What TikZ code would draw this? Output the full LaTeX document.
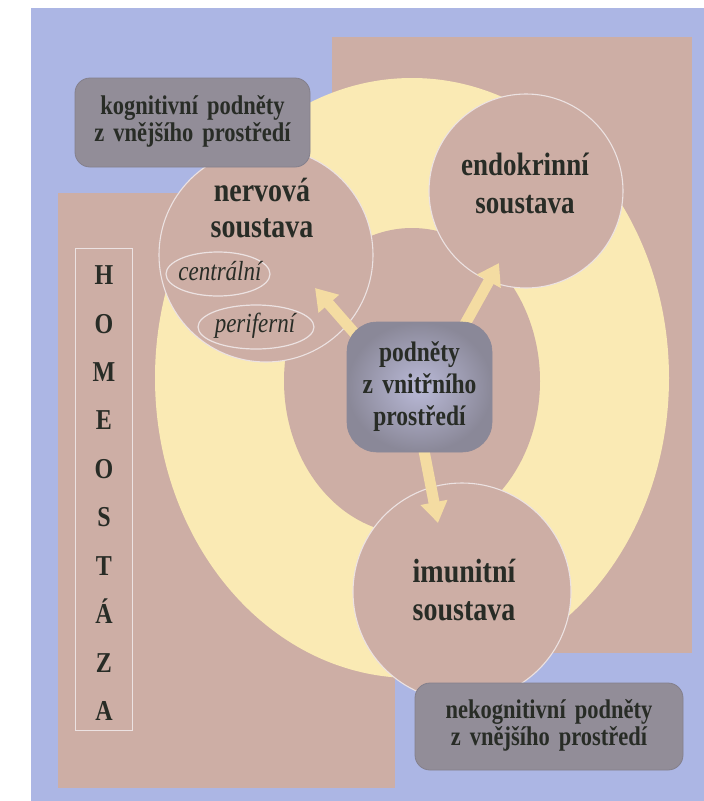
\documentclass[tikz,border=0pt]{standalone}
\usepackage{fontspec}
\setmainfont{Liberation Serif}[WordSpace=1.6]
\usepackage{graphicx}
\usetikzlibrary{arrows.meta,shapes.geometric}
\definecolor{bgblue}{RGB}{172,182,228}
\definecolor{tanc}{RGB}{205,174,165}
\definecolor{yel}{RGB}{250,234,180}
\definecolor{arrowyel}{RGB}{244,220,162}
\definecolor{boxgray}{RGB}{146,141,152}
\definecolor{boxedge}{RGB}{132,128,140}
\definecolor{cin}{RGB}{186,186,216}
\definecolor{cout}{RGB}{138,136,152}
\definecolor{txt}{RGB}{40,44,38}
\definecolor{lightline}{RGB}{236,226,226}
\newcommand{\vtext}[3]{\scalebox{1}[1.2]{\fontsize{#1}{#2}\selectfont\begin{tabular}{@{}c@{}}#3\end{tabular}}}
\begin{document}
\begin{tikzpicture}[x=1pt,y=-1pt,
  sat/.style={circle, fill=tanc, draw=lightline, line width=1.1pt, inner sep=0pt},
  ellbox/.style={ellipse, draw=lightline, line width=1.2pt, inner sep=0pt},
  lbl/.style={text=txt, font=\bfseries, inner sep=0pt},
  itlbl/.style={text=txt, font=\itshape, inner sep=0pt},
  graybox/.style={rectangle, rounded corners=15pt, fill=boxgray, draw=boxedge, line width=0.8pt, text=txt, font=\bfseries, inner sep=0pt},
  centerbox/.style={rectangle, rounded corners=30pt, inner color=cin, outer color=cout, draw=cout, line width=0.6pt, text=txt, font=\bfseries, inner sep=0pt},
  bigarrow/.style={draw=arrowyel, line width=11pt, -{Triangle[width=26pt,length=21pt]}},
  homebox/.style={rectangle, draw=lightline, line width=0.8pt, inner sep=0pt}
]
\fill[white] (0,0) rectangle (704,801);
\useasboundingbox (0,0) rectangle (704,801);
% backgrounds
\fill[bgblue] (31,8) rectangle (704,801);
\fill[tanc] (332,37) rectangle (692,653);
\fill[tanc] (58,193) rectangle (395,788);
\fill[yel] (412,378) ellipse [x radius=257pt, y radius=300pt];
\fill[tanc] (412,381) ellipse [x radius=128pt, y radius=153pt];
% satellite circles
\node[sat, minimum size=214pt] (nerv) at (266,255) {};
\node[sat, minimum size=194pt] (endo) at (526,191) {};
\node[sat, minimum size=218pt] (imun) at (462,592) {};
% sub-ellipses
\node[ellbox, minimum width=104pt, minimum height=44pt] (centr) at (218,274) {};
\node[ellbox, minimum width=116pt, minimum height=44pt] (perif) at (256,327) {};
% labels
\node[lbl] (nervT) at (262,212) {\vtext{28}{30}{nervová\\soustava}};
\node[lbl] (endoT) at (525,187) {\vtext{27}{31}{endokrinní\\soustava}};
\node[lbl] (imunT) at (464,594) {\vtext{28}{31}{imunitní\\soustava}};
\node[itlbl] (centrT) at (220,274) {\vtext{23}{26}{centrální}};
\node[itlbl] (perifT) at (255,326) {\vtext{23}{26}{periferní}};
% arrows
\coordinate (tailN) at (364,344);
\coordinate (tipN) at (315,288);
\coordinate (tailE) at (455,342);
\coordinate (tipE) at (499,263);
\coordinate (tailI) at (420,430);
\coordinate (tipI) at (438,523);
\draw[bigarrow] (tailN) -- (tipN);
\draw[bigarrow] (tailE) -- (tipE);
\draw[bigarrow] (tailI) -- (tipI);
% central box
\node[centerbox, minimum width=145pt, minimum height=130pt] (inner) at (419.5,387) {\vtext{23.5}{26.5}{podněty\\z vnitřního\\prostředí}};
% outer stimulus boxes
\node[graybox, minimum width=235pt, minimum height=89pt] (kogn) at (192.5,122.5) {\vtext{22.5}{21.7}{kognitivní podněty\\z vnějšího prostředí}};
\node[graybox, minimum width=268pt, minimum height=87pt] (nekogn) at (549,726.5) {\vtext{22.5}{21.7}{nekognitivní podněty\\z vnějšího prostředí}};
% homeostaza
\node[homebox, minimum width=57pt, minimum height=482pt] (homeB) at (103.5,489) {};
\node[lbl] (homeT) at (104,493) {\vtext{24}{40.4}{H\\O\\M\\E\\O\\S\\T\\Á\\Z\\A}};
\end{tikzpicture}
\end{document}
